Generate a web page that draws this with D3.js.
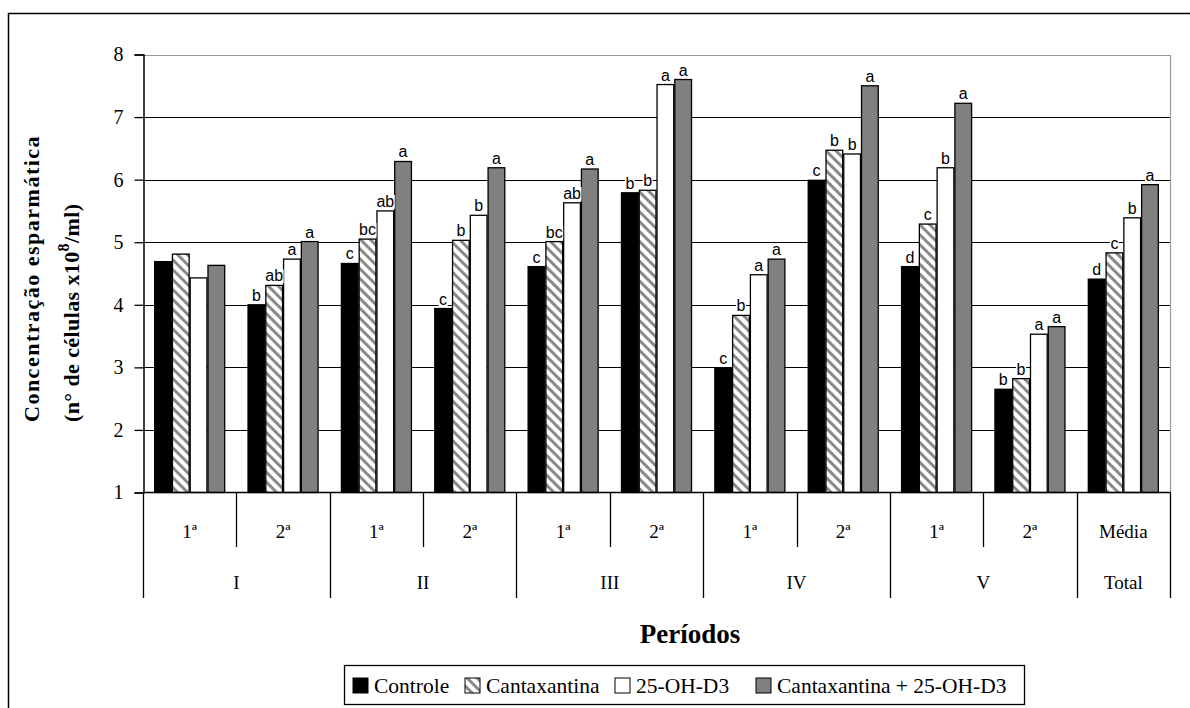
<!DOCTYPE html>
<html>
<head>
<meta charset="utf-8">
<script src="https://cdn.jsdelivr.net/npm/d3@7"></script>
<style>
  body { margin: 0; background: #fff; }
  svg { display: block; }
</style>
</head>
<body>
<div id="chart"></div>
<script>
// categories (bottom axis, two levels)
const subLabels = ["1ª", "2ª", "1ª", "2ª", "1ª", "2ª", "1ª", "2ª", "1ª", "2ª", "Média"];
const groupLabels = ["I", "II", "III", "IV", "V", "Total"];
const groupSpans = [2, 2, 2, 2, 2, 1];

const seriesNames = ["Controle", "Cantaxantina", "25-OH-D3", "Cantaxantina + 25-OH-D3"];

// values
const controle     = [4.69, 4.00, 4.66, 3.94, 4.61, 5.79, 2.99, 5.99, 4.61, 2.65, 4.41];
const cantaxantina = [4.81, 4.31, 5.05, 5.03, 5.01, 5.83, 3.83, 6.47, 5.29, 2.82, 4.83];
const ohD3         = [4.43, 4.73, 5.50, 5.43, 5.63, 7.52, 4.48, 6.41, 6.19, 3.53, 5.39];
const combinado    = [4.63, 5.01, 6.29, 6.19, 6.17, 7.60, 4.73, 7.50, 7.22, 3.65, 5.92];

// significance letters above bars
const letrasControle     = ["", "b", "c", "c", "c", "b", "c", "c", "d", "b", "d"];
const letrasCantaxantina = ["", "ab", "bc", "b", "bc", "b", "b", "b", "c", "b", "c"];
const letrasOhD3         = ["", "a", "ab", "b", "ab", "a", "a", "b", "b", "a", "b"];
const letrasCombinado    = ["", "a", "a", "a", "a", "a", "a", "a", "a", "a", "a"];

const yTicks = [1, 2, 3, 4, 5, 6, 7, 8];

const W = 1190, H = 708;
const plot = { left: 143, right: 1170, top: 54.5, bottom: 492.5 };
const serif = "Liberation Serif, Times New Roman, serif";

const svg = d3.select("#chart").append("svg")
    .attr("width", W)
    .attr("height", H);

const defs = svg.append("defs");
const pat = defs.append("pattern")
    .attr("id", "hatch")
    .attr("patternUnits", "userSpaceOnUse")
    .attr("width", 7)
    .attr("height", 7)
    .attr("patternTransform", "rotate(-45)");
pat.append("rect").attr("width", 7).attr("height", 7).attr("fill", "#fff");
pat.append("rect").attr("x", 0).attr("width", 3).attr("height", 7).attr("fill", "#8a8a8a");

const fills = ["#000000", "url(#hatch)", "#ffffff", "#808080"];
const valuesBySeries = [controle, cantaxantina, ohD3, combinado];
const lettersBySeries = [letrasControle, letrasCantaxantina, letrasOhD3, letrasCombinado];

//outer frame (runs off the right and bottom edge)
svg.append("rect")
    .attr("x", 8.5).attr("y", 13.5)
    .attr("width", 1300).attr("height", 800)
    .attr("fill", "none")
    .attr("stroke", "#000")
    .attr("stroke-width", 1.5);

const catIdx = d3.range(subLabels.length);

const x0 = d3.scaleBand()
    .domain(catIdx)
    .range([plot.left, plot.right])
    .paddingInner(0.25)
    .paddingOuter(0.125);

const x1 = d3.scaleBand()
    .domain(d3.range(seriesNames.length))
    .range([0, x0.bandwidth()])
    .paddingInner(0.06);

const y = d3.scaleLinear()
    .domain([1, 8])
    .range([plot.bottom, plot.top]);

//gridlines
svg.append("g")
    .selectAll("line")
    .data(yTicks.filter(t => t > 1 && t < 8))
    .join("line")
    .attr("x1", plot.left).attr("x2", plot.right)
    .attr("y1", d => Math.round(y(d)) + 0.5).attr("y2", d => Math.round(y(d)) + 0.5)
    .attr("stroke", "#000")
    .attr("stroke-width", 1);

//plot border top/right (gray)
svg.append("path")
    .attr("d", `M${plot.left},${Math.round(plot.top) + 0.5}H${plot.right + 0.5}V${plot.bottom}`)
    .attr("fill", "none")
    .attr("stroke", "#999")
    .attr("stroke-width", 1.2);

//bars
const barData = [];
catIdx.forEach(i => {
    valuesBySeries.forEach((vals, s) => {
        barData.push({ i, s, value: vals[i], letter: lettersBySeries[s][i] });
    });
});

svg.append("g")
    .selectAll("rect")
    .data(barData)
    .join("rect")
    .attr("x", d => x0(d.i) + x1(d.s))
    .attr("y", d => y(d.value))
    .attr("width", x1.bandwidth())
    .attr("height", d => y(1) - y(d.value))
    .attr("fill", d => fills[d.s])
    .attr("stroke", "#000")
    .attr("stroke-width", 1.3);

//letters with white boxes behind them
const lab = svg.append("g")
    .selectAll("g")
    .data(barData.filter(d => d.letter))
    .join("g")
    .attr("transform", d => `translate(${x0(d.i) + x1(d.s) + x1.bandwidth() / 2},${y(d.value) - 4})`);

lab.append("text")
    .attr("text-anchor", "middle")
    .attr("font-family", "Liberation Sans, Arial, sans-serif")
    .attr("font-size", 16)
    .attr("fill", "#000")
    .text(d => d.letter);

lab.each(function() {
    const g = d3.select(this);
    const bb = g.select("text").node().getBBox();
    g.insert("rect", "text")
        .attr("x", bb.x - 0.5)
        .attr("y", bb.y + 2)
        .attr("width", bb.width + 1)
        .attr("height", bb.height - 3)
        .attr("fill", "#fff");
});

//y axis
const yAxis = svg.append("g")
    .attr("transform", `translate(${plot.left + 0.5},0)`)
    .call(d3.axisLeft(y).tickValues(yTicks).tickSize(9).tickPadding(11).tickFormat(d3.format("d")));
yAxis.select(".domain").attr("stroke", "#000").attr("stroke-width", 1.5);
yAxis.selectAll(".tick line").attr("stroke", "#000").attr("stroke-width", 1.3);
yAxis.selectAll(".tick text")
    .style("font-family", serif)
    .style("font-size", "20px")
    .attr("fill", "#000");

//x axis baseline
svg.append("line")
    .attr("x1", plot.left).attr("x2", plot.right + 1)
    .attr("y1", plot.bottom).attr("y2", plot.bottom)
    .attr("stroke", "#000")
    .attr("stroke-width", 1.5);

//category boundaries: inner ones short, group ones long
const step = x0.step();
const catEdge = i => plot.left + i * step;
const groupStarts = [];
let acc = 0;
groupSpans.forEach(n => { groupStarts.push(acc); acc += n; });
const groupEdges = new Set([...groupStarts, subLabels.length]);

const xAxis = svg.append("g");
xAxis.selectAll("line")
    .data(d3.range(subLabels.length + 1))
    .join("line")
    .attr("x1", d => Math.round(catEdge(d)) + 0.5)
    .attr("x2", d => Math.round(catEdge(d)) + 0.5)
    .attr("y1", plot.bottom)
    .attr("y2", d => groupEdges.has(d) ? 598 : 547)
    .attr("stroke", "#000")
    .attr("stroke-width", 1.3);

xAxis.selectAll("text.sub")
    .data(subLabels)
    .join("text")
    .attr("class", "sub")
    .attr("x", (d, i) => catEdge(i) + step / 2)
    .attr("y", 538)
    .attr("text-anchor", "middle")
    .style("font-family", serif)
    .style("font-size", "19px")
    .text(d => d);

xAxis.selectAll("text.grp")
    .data(groupLabels)
    .join("text")
    .attr("class", "grp")
    .attr("x", (d, k) => catEdge(groupStarts[k]) + groupSpans[k] * step / 2)
    .attr("y", 589)
    .attr("text-anchor", "middle")
    .style("font-family", serif)
    .style("font-size", "19px")
    .text(d => d);

//axis titles
svg.append("text")
    .attr("x", 690)
    .attr("y", 643)
    .attr("text-anchor", "middle")
    .style("font-family", serif)
    .style("font-weight", "bold")
    .style("font-size", "27px")
    .text("Períodos");

const yTitle = svg.append("g")
    .style("font-family", serif)
    .style("font-weight", "bold")
    .style("font-size", "22px");

yTitle.append("text")
    .attr("transform", "translate(39,422) rotate(-90)")
    .attr("letter-spacing", 1.5)
    .text("Concentração esparmática");

const t2 = yTitle.append("text")
    .attr("transform", "translate(79,422) rotate(-90)")
    .attr("letter-spacing", 0.4);
t2.append("tspan").text("(n° de células x10");
t2.append("tspan").attr("dy", -10).style("font-size", "16px").text("8");
t2.append("tspan").attr("dy", 10).text("/ml)");

//legend
const legend = svg.append("g");
legend.append("rect")
    .attr("x", 344.5).attr("y", 665.5)
    .attr("width", 680).attr("height", 39)
    .attr("fill", "#fff")
    .attr("stroke", "#000")
    .attr("stroke-width", 1.3);

const legendX = [353, 465, 615, 756];
const items = legend.selectAll("g")
    .data(seriesNames)
    .join("g")
    .attr("transform", (d, i) => `translate(${legendX[i]},678)`);

items.append("rect")
    .attr("width", 15).attr("height", 15)
    .attr("fill", (d, i) => fills[i])
    .attr("stroke", "#000")
    .attr("stroke-width", 1);

items.append("text")
    .attr("x", 21)
    .attr("y", 15)
    .style("font-family", serif)
    .style("font-size", "21.5px")
    .text(d => d);
</script>
</body>
</html>
